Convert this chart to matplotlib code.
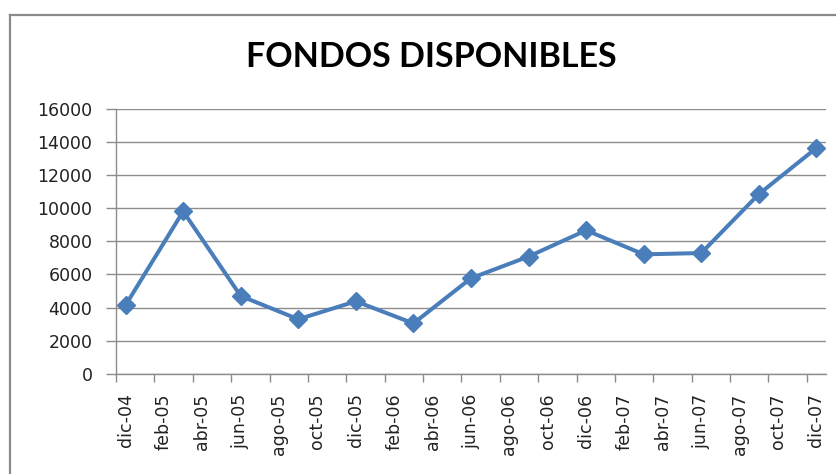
import matplotlib
matplotlib.use("Agg")
import matplotlib.pyplot as plt
from matplotlib.lines import Line2D
import numpy as np

# Data (quarterly, months since dic-04)
months = [0, 3, 6, 9, 12, 15, 18, 21, 24, 27, 30, 33, 36]
values = [4150, 9800, 4700, 3300, 4380, 3050, 5770, 7080, 8660, 7210, 7290, 10840, 13620]
tick_labels = ["dic-04", "feb-05", "abr-05", "jun-05", "ago-05", "oct-05", "dic-05",
               "feb-06", "abr-06", "jun-06", "ago-06", "oct-06", "dic-06",
               "feb-07", "abr-07", "jun-07", "ago-07", "oct-07", "dic-07"]
y_ticks = [0, 2000, 4000, 6000, 8000, 10000, 12000, 14000, 16000]
title = "FONDOS DISPONIBLES"

W, H = 836, 474
fig = plt.figure(figsize=(W / 100, H / 100), dpi=100)
fig.patch.set_facecolor("white")

# chart border (top and left visible)
bc = "#8a8a8a"
fig.add_artist(Line2D([9.5 / W, 9.5 / W], [0, 1 - 15 / H], color=bc, lw=1.6,
                      transform=fig.transFigure))
fig.add_artist(Line2D([9.5 / W, 1], [1 - 15 / H, 1 - 15 / H], color=bc, lw=1.6,
                      transform=fig.transFigure))

left, right = 116 / W, 826 / W
bottom, top = 1 - 374 / H, 1 - 108.5 / H
ax = fig.add_axes([left, bottom, right - left, top - bottom])

gc = "#8c8c8c"
ax.plot(months, values, color="#4a7ebb", lw=2.9, marker="D", ms=9,
        markeredgecolor="#4a7ebb", markerfacecolor="#4a7ebb", zorder=3,
        solid_joinstyle="round")

ax.set_xlim(-0.5, 36.5)
ax.set_ylim(0, 16000)
ax.set_yticks(y_ticks)
ax.set_yticklabels([str(v) for v in y_ticks], fontsize=12.5, family="DejaVu Sans",
                   color="#222222")
ax.yaxis.grid(True, color=gc, lw=1.0)
ax.set_axisbelow(True)

label_pos = np.arange(0, 37, 2)
ax.set_xticks(label_pos)
ax.set_xticklabels(tick_labels, rotation=90, fontsize=12.5, family="DejaVu Sans",
                   color="#222222")
ax.set_xticks(np.arange(-0.5, 36, 2), minor=True)
ax.tick_params(axis="x", which="major", length=0, pad=14)
ax.tick_params(axis="x", which="minor", length=6, color=gc, width=1)
ax.tick_params(axis="y", length=7, color=gc, width=1, pad=10)

for s in ["top", "right"]:
    ax.spines[s].set_visible(False)
for s in ["left", "bottom"]:
    ax.spines[s].set_color(gc)
    ax.spines[s].set_linewidth(1.0)

fig.text(431 / W, 1 - 57 / H, title, ha="center", va="center",
         fontsize=24.5, fontweight="bold", family="Lato", color="black")

fig.savefig("out.png", dpi=100, facecolor="white")
